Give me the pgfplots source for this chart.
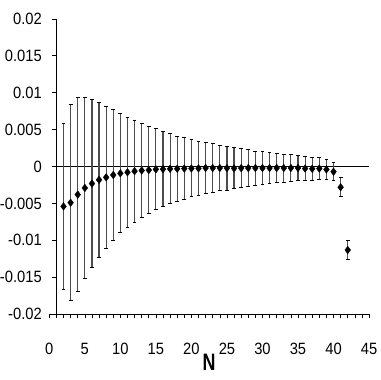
\documentclass[border=0pt]{standalone}
\usepackage{fontspec}
\setmainfont{Liberation Sans}[FakeStretch=0.9]
\newfontfamily\labfont{Liberation Sans}[FakeStretch=0.75]
\usepackage{pgfplots}
\usepackage{pgfplotstable}
\pgfplotsset{compat=1.18}

\pgfplotstableread{
N y err
2 -0.0054 0.0112
3 -0.0049 0.0133
4 -0.0038 0.0131
5 -0.0029 0.0123
6 -0.0023 0.0114
7 -0.0018 0.0105
8 -0.00146 0.00964
9 -0.00114 0.00888
10 -0.00091 0.0081
11 -0.00078 0.0075
12 -0.00062 0.0069
13 -0.00053 0.0064
14 -0.00047 0.0059
15 -0.00038 0.0055
16 -0.00035 0.0051
17 -0.0003 0.00477
18 -0.00031 0.00445
19 -0.00027 0.00417
20 -0.00026 0.00386
21 -0.00024 0.00366
22 -0.0002 0.00347
23 -0.0002 0.0033
24 -0.0002 0.0031
25 -0.00022 0.003
26 -0.00024 0.00276
27 -0.00022 0.0026
28 -0.0002 0.00245
29 -0.0002 0.0023
30 -0.0002 0.0022
31 -0.0002 0.0021
32 -0.0002 0.002
33 -0.0002 0.0019
34 -0.0002 0.0018
35 -0.0002 0.00174
36 -0.00028 0.00165
37 -0.0003 0.00157
38 -0.00028 0.00146
39 -0.0004 0.0013
40 -0.0007 0.0012
41 -0.0028 0.00128
42 -0.0113 0.00126
}\datatable

\begin{document}
\begin{tikzpicture}
\begin{axis}[name=ax,
  scale only axis,width=321.3bp,height=296.7bp,
  xmin=0,xmax=45,ymin=-0.02,ymax=0.02,
  disabledatascaling,scaled y ticks=false,
  axis x line=bottom,axis y line=left,
  axis line style={-,line width=0.8bp},
  y axis line style={draw=none},
  xtick={0,5,...,45},minor x tick num=4,
  ytick={-0.02,-0.015,-0.01,-0.005,0,0.005,0.01,0.015,0.02},
  yticklabels={-0.02,-0.015,-0.01,-0.005,0,0.005,0.01,0.015,0.02},
  xticklabels={0,5,10,15,20,25,30,35,40,45},
  tick align=outside,
  major tick length=4bp,minor tick length=4bp,
  xtick style={black,line width=0.6bp},
  every minor tick/.append style={gray},
  ytick style={draw=none},
  tick label style={font=\fontsize{16.5}{18}\selectfont},
  xticklabel style={anchor=center,inner sep=0pt,yshift=-31bp},
  yticklabel style={anchor=east,inner sep=0pt,xshift=-3.4bp},
  xlabel={\labfont\bfseries N},
  xlabel style={at={(axis description cs:0.5,0)},anchor=center,
    inner sep=0pt,yshift=-48bp,font=\fontsize{24}{26}\selectfont},
  clip=false]
\draw[line width=0.8bp] (axis cs:1,-0.02) -- (axis cs:1,0.02);
\draw[line width=0.8bp] (axis cs:1,0) -- (axis cs:45,0);
\draw[line width=0.8bp] (axis cs:1,-0.02) -- ([xshift=-4.5bp]axis cs:1,-0.02);
\draw[line width=0.8bp] (axis cs:1,-0.015) -- ([xshift=-4.5bp]axis cs:1,-0.015);
\draw[line width=0.8bp] (axis cs:1,-0.01) -- ([xshift=-4.5bp]axis cs:1,-0.01);
\draw[line width=0.8bp] (axis cs:1,-0.005) -- ([xshift=-4.5bp]axis cs:1,-0.005);
\draw[line width=0.8bp] (axis cs:1,0) -- ([xshift=-4.5bp]axis cs:1,0);
\draw[line width=0.8bp] (axis cs:1,0.005) -- ([xshift=-4.5bp]axis cs:1,0.005);
\draw[line width=0.8bp] (axis cs:1,0.01) -- ([xshift=-4.5bp]axis cs:1,0.01);
\draw[line width=0.8bp] (axis cs:1,0.015) -- ([xshift=-4.5bp]axis cs:1,0.015);
\draw[line width=0.8bp] (axis cs:1,0.02) -- ([xshift=-4.5bp]axis cs:1,0.02);
\addplot[only marks,mark=diamond*,mark size=3.8bp,black,
  error bars/.cd,y dir=both,y explicit,
  error bar style={line width=1.2bp,black!70},
  error mark options={rotate=90,mark size=1.9bp,line width=1bp,black}]
  table[x=N,y=y,y error=err]{\datatable};
\end{axis}
\path ([shift={(-47.7bp,-65.3bp)}]ax.south west) rectangle ([shift={(333.3bp,315.7bp)}]ax.south west);
\end{tikzpicture}
\end{document}
